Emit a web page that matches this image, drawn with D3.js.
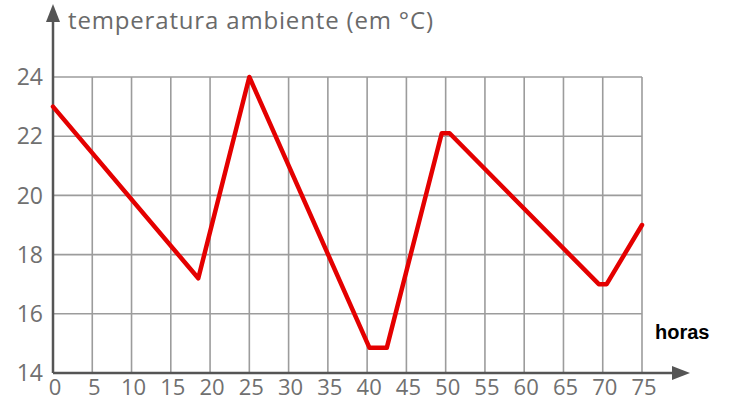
<!DOCTYPE html>
<html>
<head>
<meta charset="utf-8">
<script src="https://cdn.jsdelivr.net/npm/d3@7"></script>
<style>
  body { margin: 0; background: #fff; }
</style>
</head>
<body>
<div id="chart"></div>
<script>
// valores
const horas = [0, 18.5, 25, 40.3, 42.5, 49.5, 50.5, 69.5, 70.5, 75];
const temperatura = [23, 17.2, 24, 14.85, 14.85, 22.1, 22.1, 17, 17, 19];
const xTicks = [0, 5, 10, 15, 20, 25, 30, 35, 40, 45, 50, 55, 60, 65, 70, 75];
const yTicks = [14, 16, 18, 20, 22, 24];

const width = 734;
const height = 400;

const svg = d3.select("#chart")
    .append("svg")
    .attr("width", width)
    .attr("height", height);

const x = d3.scaleLinear().domain([0, 75]).range([53, 642]);
const y = d3.scaleLinear().domain([14, 24]).range([373, 77]);

// grade
svg.append("g")
    .selectAll("line")
    .data(xTicks.slice(1))
    .enter()
    .append("line")
    .attr("x1", d => x(d))
    .attr("x2", d => x(d))
    .attr("y1", y(14))
    .attr("y2", y(24))
    .attr("stroke", "#9c9c9c")
    .attr("stroke-width", 1.6);

svg.append("g")
    .selectAll("line")
    .data(yTicks.slice(1))
    .enter()
    .append("line")
    .attr("x1", x(0))
    .attr("x2", x(75))
    .attr("y1", d => y(d))
    .attr("y2", d => y(d))
    .attr("stroke", "#9c9c9c")
    .attr("stroke-width", 1.6);

// eixos com setas
const axisColor = "#555";
svg.append("line")
    .attr("x1", x(0)).attr("x2", 676)
    .attr("y1", y(14)).attr("y2", y(14))
    .attr("stroke", axisColor).attr("stroke-width", 2.5);
svg.append("path")
    .attr("d", `M690,${y(14)} L672,${y(14) - 7} L672,${y(14) + 7} Z`)
    .attr("fill", axisColor);

svg.append("line")
    .attr("x1", x(0)).attr("x2", x(0))
    .attr("y1", y(14)).attr("y2", 18)
    .attr("stroke", axisColor).attr("stroke-width", 2.5);
svg.append("path")
    .attr("d", `M${x(0)},4 L${x(0) - 7},22 L${x(0) + 7},22 Z`)
    .attr("fill", axisColor);

// rótulos
const labelFont = "'Open Sans', sans-serif";
svg.append("g")
    .selectAll("text")
    .data(yTicks)
    .enter()
    .append("text")
    .attr("x", 43)
    .attr("y", d => y(d))
    .attr("dy", "0.36em")
    .attr("text-anchor", "end")
    .attr("font-family", labelFont)
    .attr("font-size", 23)
    .attr("fill", "#707070")
    .text(d => d);

svg.append("g")
    .selectAll("text")
    .data(xTicks)
    .enter()
    .append("text")
    .attr("x", d => x(d) + 2)
    .attr("y", 395)
    .attr("text-anchor", "middle")
    .attr("font-family", labelFont)
    .attr("font-size", 22)
    .attr("fill", "#707070")
    .text(d => d);

svg.append("text")
    .attr("x", 68)
    .attr("y", 29)
    .attr("font-family", labelFont)
    .attr("font-size", 24)
    .attr("textLength", 365)
    .attr("lengthAdjust", "spacing")
    .attr("fill", "#6a6a6a")
    .text("temperatura ambiente (em °C)");

svg.append("text")
    .attr("x", 655)
    .attr("y", 339)
    .attr("font-family", "'Liberation Sans', Arial, sans-serif")
    .attr("font-weight", "bold")
    .attr("font-size", 20)
    .attr("fill", "#000")
    .text("horas");

// linha de temperatura
const pontos = horas.map((h, i) => [h, temperatura[i]]);
const line = d3.line()
    .x(d => x(d[0]))
    .y(d => y(d[1]));

svg.append("path")
    .datum(pontos)
    .attr("d", line)
    .attr("fill", "none")
    .attr("stroke", "#e40000")
    .attr("stroke-width", 4.5)
    .attr("stroke-linejoin", "round")
    .attr("stroke-linecap", "round");
</script>
</body>
</html>
